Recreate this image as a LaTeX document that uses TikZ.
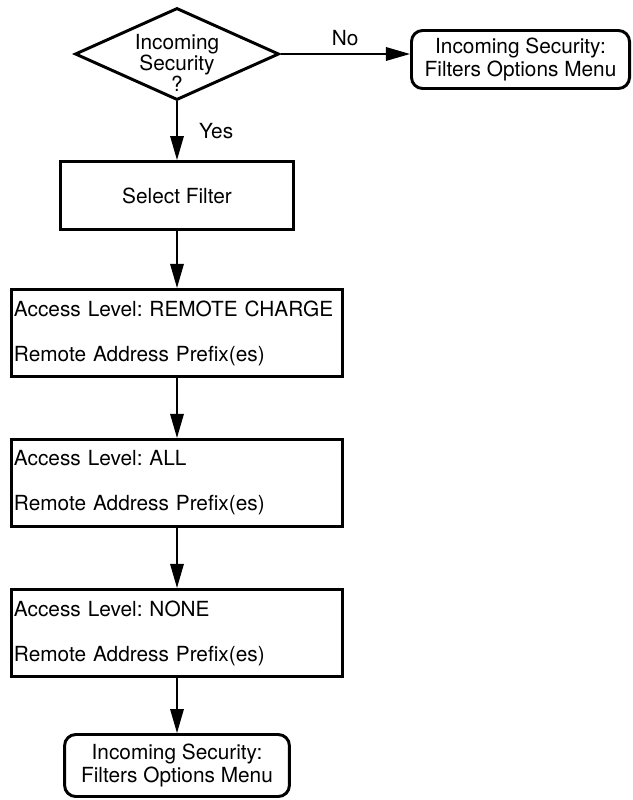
\documentclass[tikz,border=0pt]{standalone}
\usepackage{fontspec}
\setmainfont{TeX Gyre Heros}
\usetikzlibrary{shapes.geometric,arrows.meta}
\frenchspacing

\begin{document}
\begin{tikzpicture}[x=0.025cm, y=-0.025cm,
		decision/.style={draw, diamond, line width=2.1pt, inner sep=0pt, minimum width=5.1cm, minimum height=2.3cm},
		stepbox/.style={draw, rectangle, line width=2.1pt, inner sep=0pt, align=center, font=\fontsize{14.8}{17}\selectfont},
		menubox/.style={draw, rectangle, rounded corners=0.28cm, line width=2.1pt, inner sep=0pt, align=center, font=\fontsize{14.8}{17}\selectfont},
		levelbox/.style={draw, rectangle, line width=2.1pt, text width=8.15cm, inner xsep=0.07cm, minimum height=2.18cm, align=left, font=\fontsize{14.8}{32}\selectfont},
		flow/.style={-{Triangle[length=0.6cm, width=0.34cm]}, line width=0.9pt}]
			\useasboundingbox (0,0) rectangle (632,800);
			\tikzset{every node/.append style={font=\fontsize{14.8}{17}\selectfont}}

			% decision
			\node[decision] (dec) at (177,54) {};
			\node[align=center, font=\fontsize{14.8}{15}\selectfont] (dectext) at (177,63) {Incoming\\Security\\?};

			\node[menubox, minimum width=5.45cm, minimum height=1.45cm] (menuA) at (520.5,59.5) {Incoming Security:\\Filters Options Menu};
			\node[stepbox, minimum width=5.8cm, minimum height=1.7cm] (sel) at (177,195.5) {Select Filter};

			\node[levelbox] (lvlA) at (177,333) {Access Level: REMOTE CHARGE\\Remote Address Prefix(es)};
			\node[levelbox] (lvlB) at (177,483) {Access Level: ALL\\Remote Address Prefix(es)};
			\node[levelbox] (lvlC) at (177,633) {Access Level: NONE\\Remote Address Prefix(es)};

			\node[menubox, minimum width=5.62cm, minimum height=1.55cm] (menuB) at (177,765.5) {Incoming Security:\\Filters Options Menu};

			% connectors
			\draw[flow] (dec.east) -- node[above=2pt] (no) {No} (dec.east -| menuA.west);
			\draw[flow] (dec.south) -- node[right=12pt] (yes) {Yes} (sel.north);
			\draw[flow] (sel.south) -- (lvlA.north);
			\draw[flow] (lvlA.south) -- (lvlB.north);
			\draw[flow] (lvlB.south) -- (lvlC.north);
			\draw[flow] (lvlC.south) -- (menuB.north);
		\end{tikzpicture}
\end{document}
